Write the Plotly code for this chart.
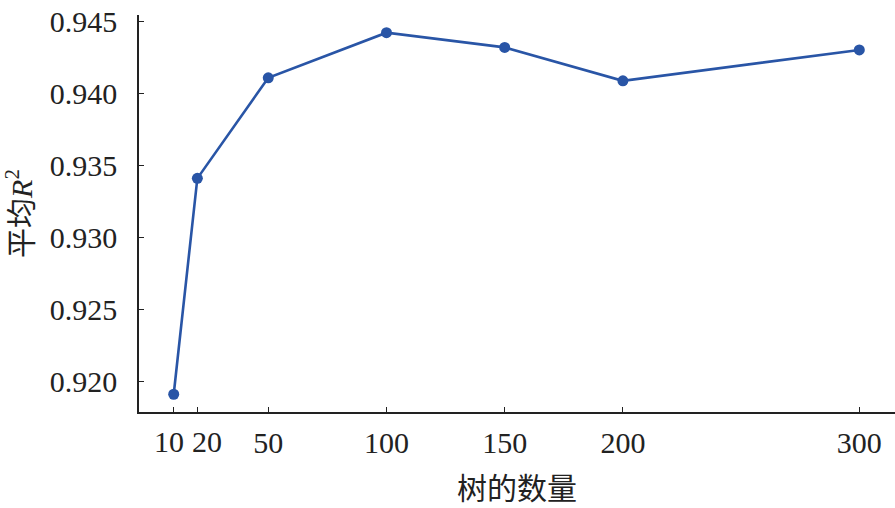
import plotly.graph_objects as go

trees = [10, 20, 50, 100, 150, 200, 300]
mean_r2 = [0.91910, 0.93408, 0.94106, 0.94419, 0.94317, 0.94085, 0.94299]
x_ticks = [10, 20, 50, 100, 150, 200, 300]
x_ticklabels = ["10", "20", "50", "100", "150", "200", "300"]
y_ticks = [0.920, 0.925, 0.930, 0.935, 0.940, 0.945]
y_ticklabels = ["0.920", "0.925", "0.930", "0.935", "0.940", "0.945"]
# labels that crowd each other are nudged apart (pixels)
crowded_shift = {10: -5, 20: 10}

FONT = "Liberation Serif, Times New Roman, Noto Sans CJK SC, serif"
BLUE = "#2955a6"
INK = "#222222"
LABEL_GAP = 3

fig = go.Figure(
    go.Scatter(
        x=trees, y=mean_r2, mode="lines+markers",
        line=dict(color=BLUE, width=2.6),
        marker=dict(color=BLUE, size=11),
        showlegend=False,
    )
)

axis_common = dict(
    showline=True, linecolor=INK, linewidth=1.5,
    ticks="inside", ticklen=5, tickwidth=1.2, tickcolor=INK,
    showgrid=False, zeroline=False, automargin=False,
    tickfont=dict(family=FONT, size=30, color=INK),
)

plain_vals = [v for v in x_ticks if v not in crowded_shift]
plain_text = [t for v, t in zip(x_ticks, x_ticklabels) if v not in crowded_shift]
crowded_vals = [v for v in x_ticks if v in crowded_shift]

fig.update_layout(
    width=895, height=508,
    margin=dict(l=139, r=0, t=15, b=96),
    paper_bgcolor="white", plot_bgcolor="white",
    xaxis=dict(
        range=[-4.68, 315.1], tickmode="array", tickvals=plain_vals,
        ticktext=plain_text,
        minor=dict(tickmode="array", tickvals=crowded_vals, ticks="inside",
                   ticklen=5, tickwidth=1.2, tickcolor=INK, showgrid=False),
        tickangle=0, ticklabelstandoff=LABEL_GAP,
        title=dict(text="树的数量", font=dict(family=FONT, size=30, color=INK), standoff=20),
        **axis_common,
    ),
    yaxis=dict(
        range=[0.917868, 0.945417], tickmode="array", tickvals=y_ticks,
        ticktext=y_ticklabels, ticklabelstandoff=14,
        title=dict(text="平均<i>R</i><sup>2</sup>", font=dict(family=FONT, size=30, color=INK), standoff=10),
        **axis_common,
    ),
)

for v, t in zip(x_ticks, x_ticklabels):
    if v in crowded_shift:
        fig.add_annotation(
            x=v, y=0, xref="x", yref="paper", text=t, showarrow=False,
            xshift=crowded_shift[v], yanchor="top", yshift=-(LABEL_GAP + 8),
            font=dict(family=FONT, size=30, color=INK),
        )

fig.write_html(
    "out.html",
    config={"displayModeBar": False},
    post_script="document.body.style.margin='0';document.body.style.overflow='hidden';",
)
